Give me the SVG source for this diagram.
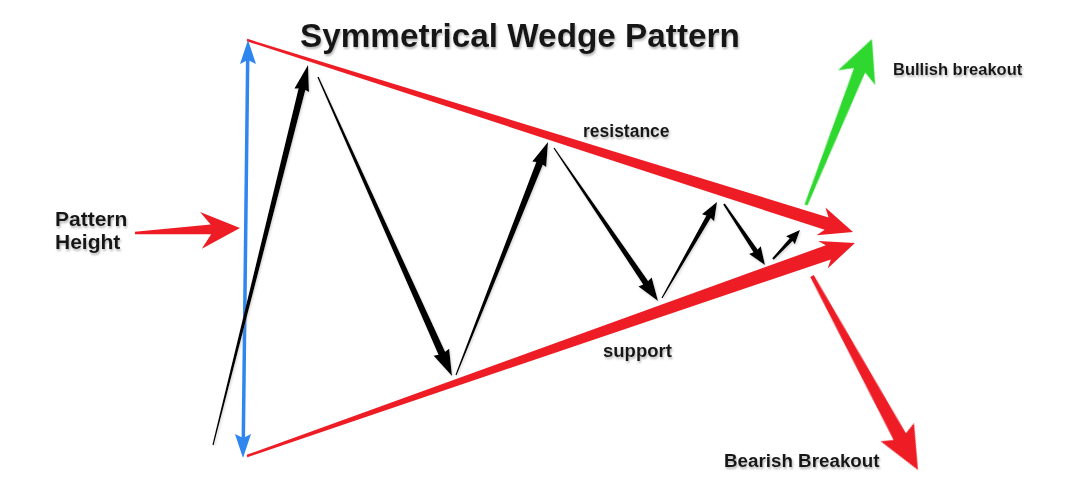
<svg xmlns="http://www.w3.org/2000/svg" width="1080" height="504" viewBox="0 0 1080 504">
<defs>
<filter id="ts" x="-10%" y="-30%" width="120%" height="160%">
<feDropShadow dx="1" dy="2" stdDeviation="1" flood-color="#777" flood-opacity="0.55"/>
</filter>
<filter id="as" x="-20%" y="-20%" width="140%" height="140%">
<feDropShadow dx="1" dy="1.5" stdDeviation="1" flood-color="#888" flood-opacity="0.35"/>
</filter>
</defs>
<style>
.t{font-family:"Liberation Sans",Arial,sans-serif;font-weight:bold;fill:#161616;filter:url(#ts)}
.red{fill:#ee1c25}
.blk{fill:#000}
.grn{fill:#2ed82e}
.blu{fill:#2f86ee}
</style>
<rect width="1080" height="504" fill="#fff"/>
<g id="connectors">
<g id="resistance-line"><polygon class="red" transform="translate(247,40) rotate(17.58)" points="0,-1.2 608,-6.5 602,-15 635.7,0 602,14 608,6.5 0,1.2"/></g>
<g id="support-line"><polygon class="red" transform="translate(247,456) rotate(-19.31)" points="0,-1.2 616,-7.5 610,-14 644.2,0 610,15 616,7.5 0,1.2"/></g>
<g id="height-arrow" class="blu">
<line x1="247.7" y1="58" x2="243.3" y2="440" stroke="#2f86ee" stroke-width="3.5"/>
<polygon points="248,40 256,64 247.8,60 240,64"/>
<polygon points="243,458 235,434 243.2,438 251,434"/>
</g>
<g id="pattern-height-arrow"><polygon class="red" transform="translate(135,233) rotate(-2.73)" points="0,-1.2 76,-5 66,-18 105.1,0 66,19 76,5 0,1.2"/></g>
<g id="zigzag" filter="url(#as)">
<polygon class="blk" transform="translate(213,445) rotate(-75.96)" points="0,-0.6 366.7,-3.5 365.7,-7.5 391.7,0 365.7,7.5 366.7,3.5 0,0.6"/>
<polygon class="blk" transform="translate(318,77) rotate(65.86)" points="0,-0.7 302.7,-3.6 301.7,-8.5 327.7,0 301.7,8.5 302.7,3.6 0,0.7"/>
<polygon class="blk" transform="translate(456,375) rotate(-68.45)" points="0,-0.6 227.5,-3.5 226.5,-7.5 250.5,0 226.5,7.5 227.5,3.5 0,0.6"/>
<polygon class="blk" transform="translate(554,148) rotate(55.79)" points="0,-0.6 163,-3 162,-8 185,0 162,8 163,3 0,0.6"/>
<polygon class="blk" transform="translate(662,298) rotate(-60.19)" points="0,-0.6 93.6,-2.5 92.6,-7 110.6,0 92.6,7 93.6,2.5 0,0.6"/>
<polygon class="blk" transform="translate(724,204) rotate(56.1)" points="0,-1 56.5,-2.5 55.5,-7 73.5,0 55.5,7 56.5,2.5 0,1"/>
<polygon class="blk" transform="translate(773,259) rotate(-47.05)" points="0,-1 26.6,-2 25.6,-6 39.6,0 25.6,6 26.6,2 0,1"/>
</g>
<g id="bullish-arrow"><polygon class="grn" transform="translate(806,205) rotate(-68.32)" points="0,-1.5 145,-6 137,-20 178.6,0 137,20 145,6 0,1.5"/></g>
<g id="bearish-arrow"><polygon class="red" transform="translate(812,276) rotate(61.35)" points="0,-2 183,-7 178,-19 221.1,0 178,19 183,7 0,2"/></g>
</g>
<g id="title"><text class="t" x="300" y="47" font-size="33.3">Symmetrical Wedge Pattern</text></g>
<g id="label-pattern-height"><text class="t" x="55" y="226" font-size="21">Pattern</text><text class="t" x="55" y="249" font-size="21">Height</text></g>
<g id="label-resistance"><text class="t" x="583" y="137" font-size="17.5">resistance</text></g>
<g id="label-support"><text class="t" x="603" y="357" font-size="18.5">support</text></g>
<g id="label-bullish"><text class="t" x="893" y="75" font-size="16.5">Bullish breakout</text></g>
<g id="label-bearish"><text class="t" x="724" y="467" font-size="18.8">Bearish Breakout</text></g>
</svg>
